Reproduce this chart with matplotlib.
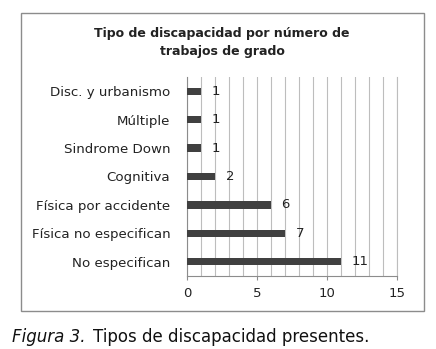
import numpy as np
import matplotlib.pyplot as plt
from matplotlib.patches import Rectangle

categorias = ['No especifican', 'Física no especifican', 'Física por accidente',
              'Cognitiva', 'Sindrome Down', 'Múltiple', 'Disc. y urbanismo']
trabajos = [11, 7, 6, 2, 1, 1, 1]
ticks_x = [0, 5, 10, 15]

W, H = 436, 349
fig = plt.figure(figsize=(W / 100, H / 100), dpi=100)

# marco exterior del grafico
fig.patches.append(Rectangle((21 / W, 1 - 311 / H), (424 - 21) / W, (311 - 13) / H,
                             transform=fig.transFigure, fill=False,
                             edgecolor='#8c8c8c', linewidth=1.0))

ax = fig.add_axes([187 / W, 1 - 276 / H, (397 - 187) / W, (276 - 77) / H])
y = np.arange(len(categorias))
ax.barh(y, trabajos, height=0.26, color='#404040', zorder=3)
for yi, v in zip(y, trabajos):
    ax.text(v + 0.75, yi, str(v), va='center', ha='left', fontsize=9.5, color='#222222')

ax.set_xlim(0, 15)
ax.set_ylim(-0.5, len(categorias) - 0.5)
ax.set_xticks(ticks_x)
ax.set_xticks(np.arange(0, 16, 1), minor=True)
ax.grid(which='minor', axis='x', color='#bdbdbd', linewidth=0.8, zorder=0)
ax.grid(which='major', axis='x', color='#bdbdbd', linewidth=0.8, zorder=0)
ax.set_yticks(y)
ax.set_yticklabels(categorias, fontsize=9.6, color='#222222')
ax.tick_params(axis='y', length=0, pad=12)
ax.tick_params(axis='x', which='major', length=3, color='#8c8c8c', labelsize=9.5,
               labelcolor='#222222', pad=5)
ax.tick_params(axis='x', which='minor', length=0)
ax.spines['top'].set_visible(False)
ax.spines['right'].set_color('#bdbdbd')
ax.spines['right'].set_linewidth(0.8)
for s in ['left', 'bottom']:
    ax.spines[s].set_color('#8c8c8c')

fig.text(222 / W, 1 - 42.5 / H, 'Tipo de discapacidad por número de\ntrabajos de grado',
         ha='center', va='center', fontsize=9, fontweight='bold', color='#222222',
         linespacing=1.55)

fig.text(12 / W, 1 - 337 / H, 'Figura 3.', ha='left', va='center', fontsize=12,
         style='italic', color='#111111')
fig.text(93 / W, 1 - 337 / H, 'Tipos de discapacidad presentes.', ha='left',
         va='center', fontsize=12, color='#111111')

fig.savefig('out.png', dpi=100)
